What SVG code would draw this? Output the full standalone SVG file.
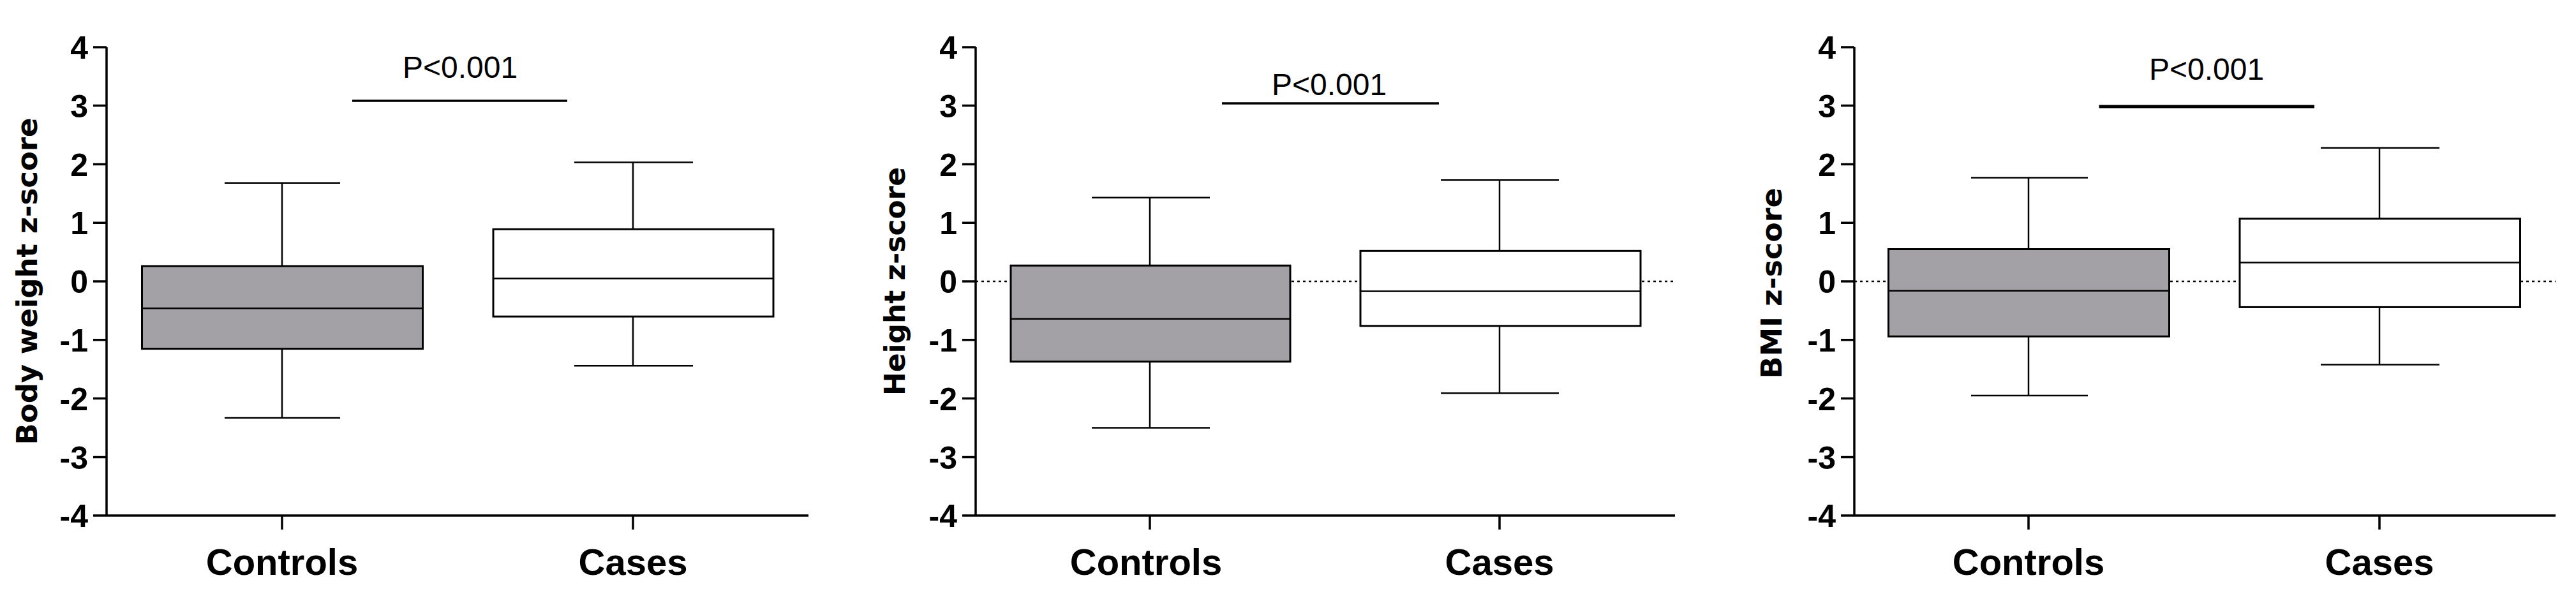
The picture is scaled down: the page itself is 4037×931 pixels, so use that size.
<svg xmlns="http://www.w3.org/2000/svg" width="4037" height="931" viewBox="0 0 4037 931">
<style>
.ax{stroke:#000;stroke-width:3.5;fill:none}
.bx{stroke:#000;stroke-width:3;}
.ln{stroke:#000;stroke-width:2.5;fill:none}
.zero{stroke:#000;stroke-width:2.5;stroke-dasharray:4 5;fill:none}
.tk{font-family:"Liberation Sans",Arial,sans-serif;font-weight:bold;font-size:50px;text-anchor:end}
.cat{font-family:"Liberation Sans",Arial,sans-serif;font-weight:bold;font-size:58px;text-anchor:middle}
.yl{font-family:"DejaVu Sans",sans-serif;font-weight:bold;font-size:44px;text-anchor:middle}
.p{font-family:"Liberation Sans",Arial,sans-serif;font-size:48px;text-anchor:middle}
</style>
<rect width="4037" height="931" fill="#fff"/>
<!-- Panel 1 -->
<g id="panel1">
<path class="ax" d="M167,74V808H1267 M146,74H167 M146,165.6H167 M146,257.4H167 M146,349.2H167 M146,441H167 M146,532.8H167 M146,624.6H167 M146,716.4H167 M146,808H167 M442,808V830 M992,808V830"/>
<g class="tk"><text x="138" y="92">4</text><text x="138" y="184">3</text><text x="138" y="276">2</text><text x="138" y="367">1</text><text x="138" y="459">0</text><text x="138" y="551">-1</text><text x="138" y="643">-2</text><text x="138" y="735">-3</text><text x="138" y="826">-4</text></g>
<text class="yl" transform="translate(58,441) rotate(-90)" textLength="513" lengthAdjust="spacingAndGlyphs">Body weight z-score</text>
<text class="cat" x="442" y="901">Controls</text><text class="cat" x="992" y="901">Cases</text>
<g id="p1-controls"><path class="ln" d="M442,286.8V417.1 M442,546.6V654.9 M352,286.8H533 M352,654.9H533"/><rect class="bx" x="222.5" y="417.1" width="440" height="129.5" fill="#a4a1a6"/><path class="ln" d="M222.5,483.2H662.5"/></g>
<g id="p1-cases"><path class="ln" d="M992,254.6V359.3 M992,496.1V573.2 M900,254.6H1086 M900,573.2H1086"/><rect class="bx" x="773" y="359.3" width="439" height="136.8" fill="#fff"/><path class="ln" d="M773,436.4H1212"/></g>
<path class="ax" d="M552,158H889"/><text class="p" x="721" y="122">P&lt;0.001</text>
</g>
<!-- Panel 2 -->
<g id="panel2">
<path class="zero" d="M1529,441H2625"/>
<path class="ax" d="M1529,74V808H2625 M1508,74H1529 M1508,165.6H1529 M1508,257.4H1529 M1508,349.2H1529 M1508,441H1529 M1508,532.8H1529 M1508,624.6H1529 M1508,716.4H1529 M1508,808H1529 M1802,808V830 M2350,808V830"/>
<g class="tk"><text x="1500" y="92">4</text><text x="1500" y="184">3</text><text x="1500" y="276">2</text><text x="1500" y="367">1</text><text x="1500" y="459">0</text><text x="1500" y="551">-1</text><text x="1500" y="643">-2</text><text x="1500" y="735">-3</text><text x="1500" y="826">-4</text></g>
<text class="yl" transform="translate(1418,441) rotate(-90)" textLength="358" lengthAdjust="spacingAndGlyphs">Height z-score</text>
<text class="cat" x="1796" y="901">Controls</text><text class="cat" x="2350" y="901">Cases</text>
<g id="p2-controls"><path class="ln" d="M1802,309.7V416.2 M1802,566.8V670.5 M1711,309.7H1896 M1711,670.5H1896"/><rect class="bx" x="1584" y="416.2" width="438" height="150.6" fill="#a4a1a6"/><path class="ln" d="M1584,499.8H2022"/></g>
<g id="p2-cases"><path class="ln" d="M2350,282.2V393.3 M2350,510.8V616.3 M2258,282.2H2443 M2258,616.3H2443"/><rect class="bx" x="2132" y="393.3" width="439" height="117.5" fill="#fff"/><path class="ln" d="M2132,456.6H2571"/></g>
<path class="ax" d="M1915,162H2255"/><text class="p" x="2083" y="149">P&lt;0.001</text>
</g>
<!-- Panel 3 -->
<g id="panel3">
<path class="zero" d="M2906,441H4005"/>
<path class="ax" d="M2906,74V808H4005 M2885,74H2906 M2885,165.6H2906 M2885,257.4H2906 M2885,349.2H2906 M2885,441H2906 M2885,532.8H2906 M2885,624.6H2906 M2885,716.4H2906 M2885,808H2906 M3179,808V830 M3729,808V830"/>
<g class="tk"><text x="2877" y="92">4</text><text x="2877" y="184">3</text><text x="2877" y="276">2</text><text x="2877" y="367">1</text><text x="2877" y="459">0</text><text x="2877" y="551">-1</text><text x="2877" y="643">-2</text><text x="2877" y="735">-3</text><text x="2877" y="826">-4</text></g>
<text class="yl" transform="translate(2792,444) rotate(-90)" textLength="299" lengthAdjust="spacingAndGlyphs">BMI z-score</text>
<text class="cat" x="3179" y="901">Controls</text><text class="cat" x="3729" y="901">Cases</text>
<g id="p3-controls"><path class="ln" d="M3179,278.5V390.5 M3179,527.3V620 M3089,278.5H3272 M3089,620H3272"/><rect class="bx" x="2959.5" y="390.5" width="440" height="136.8" fill="#a4a1a6"/><path class="ln" d="M2959.5,455.7H3399.5"/></g>
<g id="p3-cases"><path class="ln" d="M3729,231.7V342.8 M3729,481.4V571.4 M3637,231.7H3823 M3637,571.4H3823"/><rect class="bx" x="3510" y="342.8" width="439.5" height="138.6" fill="#fff"/><path class="ln" d="M3510,411.6H3949.5"/></g>
<path class="ax" d="M3289.5,167H3627" style="stroke-width:5"/><text class="p" x="3458" y="125">P&lt;0.001</text>
</g>
</svg>
